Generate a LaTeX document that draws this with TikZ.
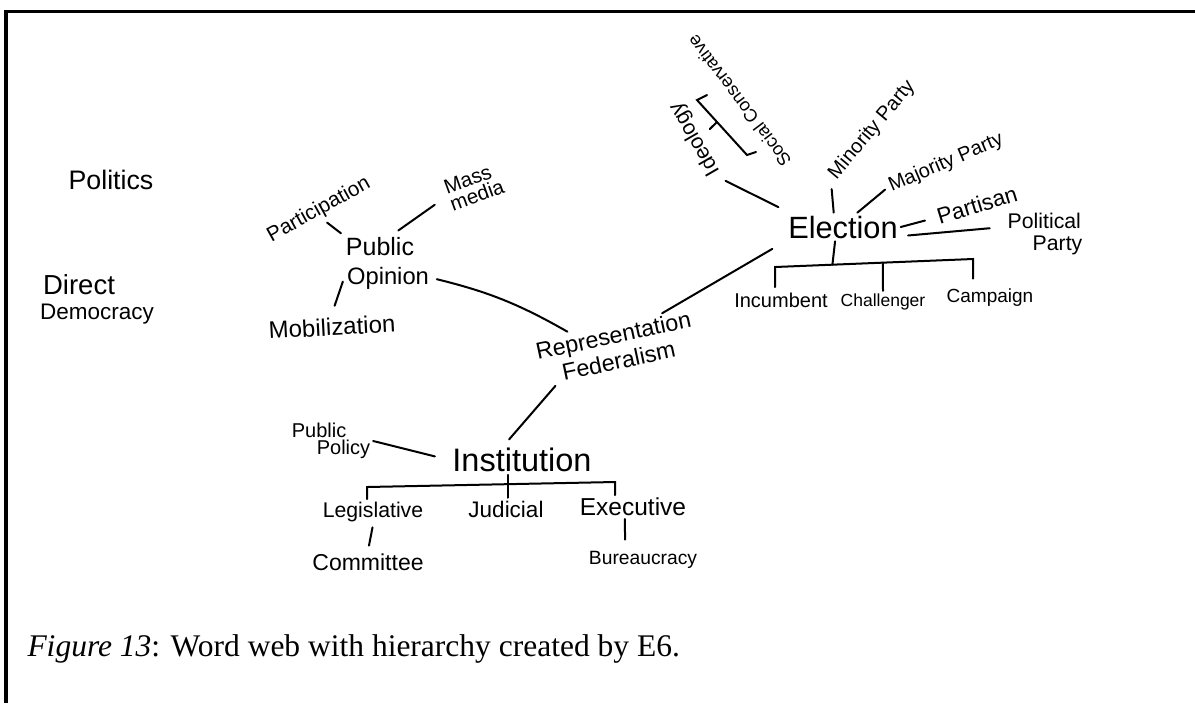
\documentclass[tikz,border=0pt]{standalone}
\usepackage{fontspec}
\setmainfont{Liberation Serif}
\newfontfamily\handfont{Liberation Sans}
\newcommand\hand[1]{\handfont\fontsize{#1}{#1}\selectfont}

\begin{document}
\begin{tikzpicture}[x=0.4pt,y=-0.4pt]
	\tikzstyle{WordStyle}=[inner sep=1pt,align=center]
	\tikzstyle{EdgeStyle}=[line width=0.8pt,line cap=round]
	\tikzstyle{FrameStyle}=[line width=1.2pt]
	\useasboundingbox (0,0) rectangle (1195,703);
	\draw[FrameStyle] (6,703) -- (6,11) -- (1195,11);
	% loose words
	\node[WordStyle,font=\hand{10.7}] (Politics) at (111,180) {Politics};
	\node[WordStyle,font=\hand{11}] (Direct) at (79,285) {Direct};
	\node[WordStyle,font=\hand{9}] (Democracy) at (97,314) {Democracy};
	% public opinion
	\node[WordStyle,font=\hand{8.3},rotate=29] (Participation) at (319,210) {Participation};
	\node[WordStyle,font=\hand{10}] (Public) at (380,247) {Public};
	\node[WordStyle,font=\hand{9.5}] (Opinion) at (388,278) {Opinion};
	\node[WordStyle,font=\hand{8.2},rotate=20,align=left] (MassMedia) at (474,187) {Mass\\[-1pt]media};
	\node[WordStyle,font=\hand{9.6},rotate=3] (Mobilization) at (332,327) {Mobilization};
	\node[WordStyle,font=\hand{9.3},rotate=12] (Representation) at (616,348) {Representation\\[1pt]Federalism};
	% institution
	\node[WordStyle,font=\hand{13}] (Institution) at (522,460) {Institution};
	\node[WordStyle,font=\hand{8},align=left] (PublicPolicy) at (331,441) {Public\\[-1pt]\hspace*{10pt}Policy};
	\node[WordStyle,font=\hand{8.5}] (Legislative) at (373,512) {Legislative};
	\node[WordStyle,font=\hand{9}] (Judicial) at (506,509) {Judicial};
	\node[WordStyle,font=\hand{9.8}] (Executive) at (633,507) {Executive};
	\node[WordStyle,font=\hand{9.2}] (Committee) at (368,562) {Committee};
	\node[WordStyle,font=\hand{7.7}] (Bureaucracy) at (643,560) {Bureaucracy};
	% election
	\node[WordStyle,font=\hand{12.3}] (Election) at (843,227) {Election};
	\node[WordStyle,font=\hand{8}] (Incumbent) at (781,300) {Incumbent};
	\node[WordStyle,font=\hand{7}] (Challenger) at (883,302) {Challenger};
	\node[WordStyle,font=\hand{7.6}] (Campaign) at (990,298) {Campaign};
	\node[WordStyle,font=\hand{9},rotate=17] (Partisan) at (977,205) {Partisan};
	\node[WordStyle,font=\hand{8.5},align=left] (PoliticalParty) at (1045,234) {Political\\[0.3pt]\hspace*{10pt}Party};
	\node[WordStyle,font=\hand{8},rotate=23] (MajorityParty) at (946,163) {Majority Party};
	\node[WordStyle,font=\hand{8},rotate=50] (MinorityParty) at (872,130) {Minority Party};
	\node[WordStyle,font=\hand{8.5},rotate=120] (Ideology) at (695,139) {Ideology};
	\node[WordStyle,font=\hand{7.2},rotate=127] (SocialConservative) at (739,101) {Social Conservative};
	% caption
	\node[anchor=base west,inner sep=0pt,font=\fontsize{12.6}{14}\selectfont] (Caption) at (27,656) {\textit{Figure 13}: Word web with hierarchy created by E6.};

	\draw[EdgeStyle,shorten <=1pt,shorten >=1pt] (Participation.south) -- (Public.north west);
	\draw[EdgeStyle,shorten <=3pt,shorten >=5pt] (Public.45) -- (MassMedia.west);
	\draw[EdgeStyle,shorten <=1.5pt,shorten >=4pt] (Opinion.west) -- (Mobilization.north);
	\draw[EdgeStyle,shorten <=2pt,shorten >=1pt] (Opinion.east) to[bend left=8] (Representation.150);
	\draw[EdgeStyle,shorten <=6pt] (Election.south west) -- (Representation.25);
	\draw[EdgeStyle,shorten >=3pt] (Representation.200) -- (Institution.140);
	\draw[EdgeStyle,shorten >=6pt] (PublicPolicy.east) -- (Institution.west);

	\coordinate (InstL) at (367,487);
	\coordinate (InstR) at (615,482);
	\draw[EdgeStyle] (InstL |- Legislative.north) -- (InstL) -- coordinate[pos=0.57] (InstM) (InstR) -- (InstR |- Executive.north);
	\draw[EdgeStyle] (InstM |- Institution.south) -- (InstM |- Judicial.north);
	\draw[EdgeStyle,shorten <=1pt,shorten >=2pt] (Legislative.south) -- (Committee.north);
	\draw[EdgeStyle,shorten >=3.5pt] (Executive.236) -- (Bureaucracy.147);

	\coordinate (ElecL) at (775,267);
	\coordinate (ElecR) at (973,259);
	\draw[EdgeStyle,shorten <=1pt,shorten >=3pt] (ElecL |- Incumbent.north) -- (ElecL) -- coordinate[pos=0.29] (ElecT) coordinate[pos=0.545] (ElecC) (ElecR) -- (ElecR |- Campaign.north);
	\draw[EdgeStyle] (Election.241) -- (ElecT);
	\draw[EdgeStyle] (ElecC) -- (Challenger.north);
	\draw[EdgeStyle,shorten >=4pt] (Election.east) -- (Partisan.west);
	\draw[EdgeStyle,shorten <=3pt,shorten >=6pt] (Election.-9) -- (PoliticalParty.170);
	\draw[EdgeStyle,shorten >=1pt] (Election.45) -- (MajorityParty.west);
	\draw[EdgeStyle,shorten >=4pt] (Election.123) -- (MinorityParty.west);
	\draw[EdgeStyle,shorten <=5pt,shorten >=4pt] (Election.165) -- (Ideology.west);

	\coordinate (IdeoA) at (697,100);
	\coordinate (IdeoB) at (747,155);
	\draw[EdgeStyle] (IdeoA) ++(10,-5) -- (IdeoA) -- coordinate[pos=0.4] (IdeoM) (IdeoB) -- ++(9,-3);
	\draw[EdgeStyle,shorten >=2pt] (IdeoM) -- (Ideology.south);
\end{tikzpicture}
\end{document}
